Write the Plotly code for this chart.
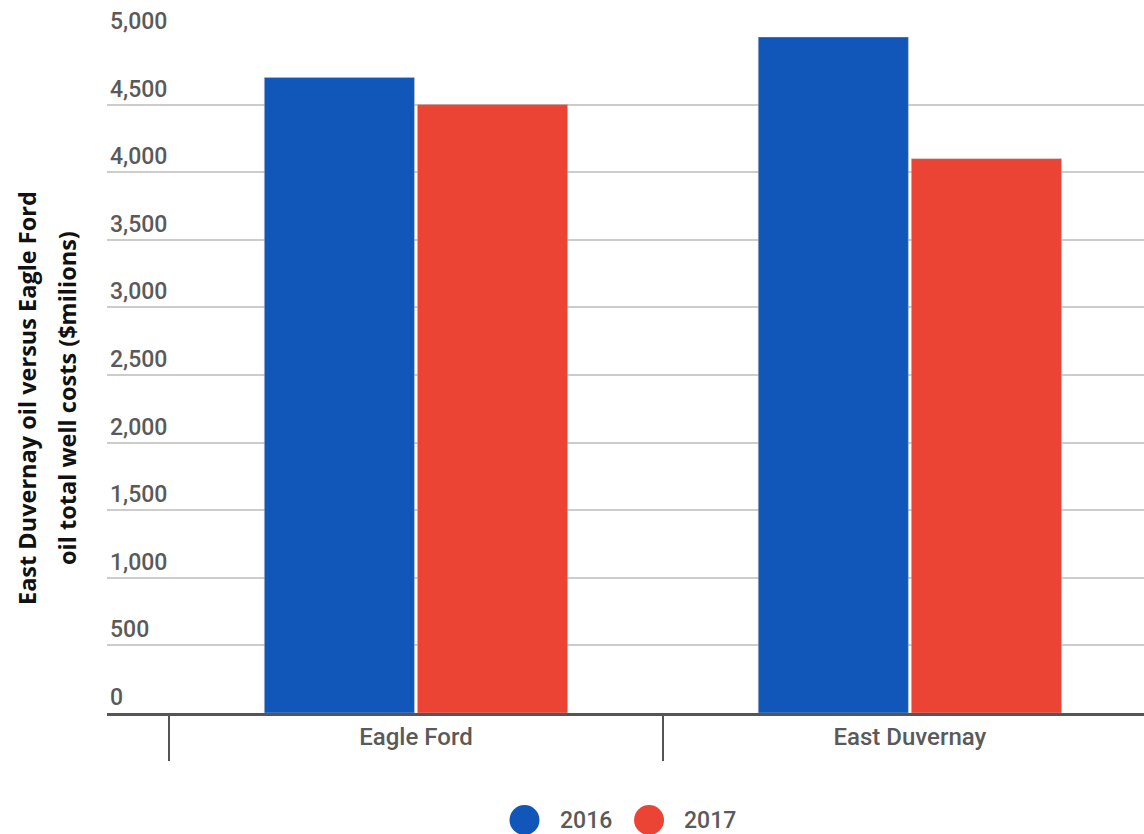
import plotly.graph_objects as go

categories = ["Eagle Ford", "East Duvernay"]
series_names = ["2016", "2017"]
values_2016 = [4700, 5000]
values_2017 = [4500, 4100]
y_ticks = [0, 500, 1000, 1500, 2000, 2500, 3000, 3500, 4000, 4500, 5000]
y_tick_labels = ["0", "500", "1,000", "1,500", "2,000", "2,500", "3,000", "3,500", "4,000", "4,500", "5,000"]
colors = ["#1157BA", "#EB4334"]

fig = go.Figure()
for name, vals, col in zip(series_names, [values_2016, values_2017], colors):
    fig.add_trace(go.Bar(x=categories, y=vals, name=name, marker_color=col,
                         marker_line=dict(color="rgba(190,190,190,0.6)", width=0.8),
                         showlegend=False))

grey = "#5a5a5a"
tick_font = dict(family="Roboto", size=23, color=grey, weight=500)

fig.update_layout(
    width=1144, height=834,
    margin=dict(l=107, r=0, t=37, b=121),
    plot_bgcolor="white", paper_bgcolor="white",
    barmode="group", bargap=0.38, bargroupgap=0.02,
    showlegend=False,
    xaxis=dict(type="category", range=[-0.6255, 1.474],
               showline=True, linecolor="#555555", linewidth=3,
               ticks="outside", tickson="boundaries", ticklen=45, tickwidth=2,
               tickcolor="#555555", ticklabelstandoff=0,
               tickfont=dict(family="Roboto", size=24, color=grey, weight=500),
               showgrid=False),
    yaxis=dict(range=[0, 5000], tickvals=y_ticks, ticktext=y_tick_labels,
               ticklabelposition="inside top", ticklabeloverflow="allow",
               tickfont=tick_font,
               showgrid=True, gridcolor="#cccccc", gridwidth=1.5,
               zeroline=False, showline=False),
    font=dict(family="Roboto"),
)

# legend drawn as circles + labels below the plot
plot_h = 834 - 37 - 121
leg_x_circle = [0.4026, 0.5227]
leg_x_text = [0.4349, 0.5545]
leg_y = -(820 - 713) / plot_h
for name, col, xc, xt in zip(series_names, colors, leg_x_circle, leg_x_text):
    fig.add_shape(type="circle", xref="paper", yref="paper",
                  xsizemode="pixel", ysizemode="pixel", xanchor=xc, yanchor=leg_y,
                  x0=-15, x1=15, y0=-15, y1=15,
                  fillcolor=col, line=dict(width=0))
    fig.add_annotation(text=name, xref="paper", yref="paper", x=xt, y=leg_y,
                       xanchor="left", yanchor="middle", showarrow=False,
                       font=dict(family="Roboto", size=23, color=grey, weight=500))

title_font = dict(family="Open Sans", size=23.5, color="#111111", weight="bold")
title_y = (713 - 398) / plot_h
fig.add_annotation(text="East Duvernay oil versus Eagle Ford", textangle=-90,
                   xref="paper", yref="paper", x=-(107 - 27) / 1037, y=title_y,
                   xanchor="center", yanchor="middle", showarrow=False, font=title_font)
fig.add_annotation(text="oil total well costs ($milions)", textangle=-90,
                   xref="paper", yref="paper", x=-(107 - 67) / 1037, y=title_y,
                   xanchor="center", yanchor="middle", showarrow=False, font=title_font)

fig.write_html("out.html")
